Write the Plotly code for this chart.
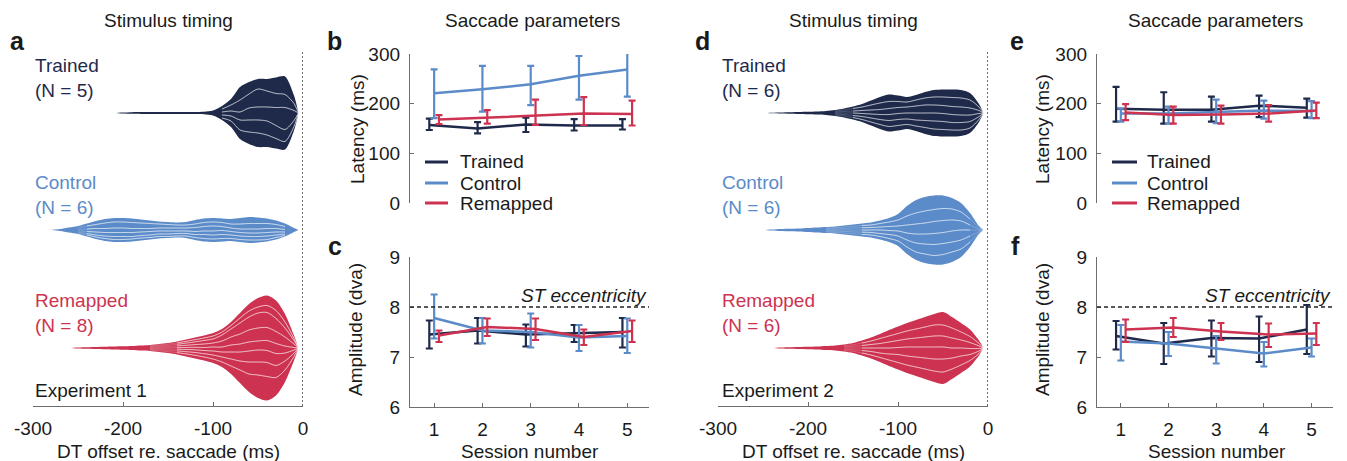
import plotly.graph_objects as go

# page body adds an 8px offset; the figure is sized so the visible window is 1347x461
OFF = 8
W, H = 1347 - OFF, 461 - OFF
FONT = "Liberation Sans, Arial, Helvetica, sans-serif"
FS = 19
NAVY = "#1f2a4b"
BLUE = "#5b8bc8"
RED = "#cd3350"
INK = "#1a1a1a"
AXC = "#6e6e6e"

# ---------------- data ----------------
DT_GRID = list(range(-280, 0, 10))          # -280 ... -10 ms
DT_TIP = -5
DT_TICKS = [-300, -200, -100, 0]
DT_TICKTEXT = ["-300", "-200", "-100", "0"]

# per-subject stacked density thickness (Experiment 1)
A_TRAINED = [
    [0, 0, 0, 0, 0, 0, 0, 0, 0.2, 0.3, 0.3, 0.3, 0.3, 0.4, 0.4, 0.4, 0.4, 0.5, 1, 3, 6, 13, 12, 10, 12, 16, 18, 8],
    [0, 0, 0, 0, 0, 0, 0, 0, 0.2, 0.3, 0.4, 0.4, 0.4, 0.4, 0.4, 0.4, 0.4, 0.5, 1, 3, 6, 12, 14, 18, 16, 14, 13, 7],
    [0, 0, 0, 0, 0, 0, 0, 0, 0.2, 0.4, 0.4, 0.4, 0.4, 0.4, 0.4, 0.5, 0.5, 0.5, 1, 3, 5, 8, 12, 13, 14, 18, 22, 10],
    [0, 0, 0, 0, 0, 0, 0, 0, 0.2, 0.3, 0.4, 0.4, 0.4, 0.4, 0.4, 0.4, 0.4, 0.5, 1, 3, 5, 10, 12, 13, 14, 13, 12, 6],
    [0, 0, 0, 0, 0, 0, 0, 0, 0.2, 0.3, 0.3, 0.3, 0.3, 0.4, 0.4, 0.4, 0.4, 0.5, 1, 2, 6, 9, 12, 14, 12, 10, 8, 4],
]
A_CONTROL = [
    [0, 0.4, 1, 1.5, 2.5, 3.5, 4, 4, 4, 4, 3.5, 3, 2.5, 2.5, 2.5, 3, 4, 4, 4, 4, 5, 6, 6.5, 6, 5, 4, 3, 1],
    [0, 0.4, 1, 2, 3, 4, 5.5, 6, 6, 6, 5.5, 5, 4, 3.5, 3, 3, 3.5, 4, 4, 4, 4, 5, 5.5, 5.5, 5, 4, 3, 1],
    [0, 0.3, 0.8, 1.5, 2.5, 3.5, 4, 4.5, 4.5, 4, 3.5, 3, 3, 3, 3, 3, 4, 4.5, 5, 4, 3.5, 3.5, 4, 4, 4, 3.5, 2.5, 0.6],
    [0, 0.3, 0.8, 1.2, 2, 3, 3.5, 4, 4, 4, 3.5, 3.5, 3, 3, 2.5, 2.5, 3, 3.5, 4, 4, 3.5, 3.5, 3.5, 3.5, 3.5, 3, 2, 0.6],
    [0, 0.3, 0.7, 1, 1.5, 2, 2.5, 3, 3, 2.5, 2.5, 2.5, 2.5, 2.5, 2.5, 2.5, 3, 4, 4, 4, 3.5, 3.5, 3.5, 3.5, 3.5, 2.5, 1.5, 0.4],
    [0, 0.3, 0.7, 0.8, 1.5, 2, 2.5, 2.5, 2.5, 2.5, 2.5, 2, 2, 1.5, 1.5, 2, 2.5, 3, 3, 3, 2.5, 2.5, 3, 2.5, 2, 2, 1, 0.4],
]
A_REMAP = [
    [0, 0, 0, .1, .2, .2, .3, .3, .4, .5, .6, .7, .9, 1.1, 1.4, 1.8, 2.2, 2.5, 3, 3, 3.5, 5, 7, 9, 10, 10, 8, 3],
    [0, 0, 0, .1, .2, .3, .3, .4, .4, .5, .6, .7, .9, 1.1, 1.4, 1.8, 2.2, 2.5, 3, 3, 3.5, 5, 6, 6, 7, 8, 6, 2],
    [0, 0, 0, .2, .2, .3, .3, .4, .5, .5, .6, .8, 1, 1.3, 1.6, 2.2, 2.7, 3.5, 4, 6, 8, 11, 13, 15, 15, 13, 9, 3.5],
    [0, 0, 0, .1, .2, .3, .4, .4, .5, .5, .7, .8, 1, 1.3, 1.7, 2.2, 2.7, 3.5, 4, 6, 8, 10, 12, 13, 13, 12, 9, 3.5],
    [0, 0, 0, .1, .2, .2, .3, .4, .4, .5, .6, .7, 1, 1.2, 1.6, 2, 2.5, 3, 4, 5, 7, 8, 9, 9, 10, 10, 7, 2.5],
    [0, 0, 0, .1, .2, .2, .3, .4, .4, .5, .6, .8, 1, 1.3, 1.7, 2.2, 2.7, 3.2, 4, 5, 7, 9, 11, 12, 12, 12, 8, 3],
    [0, 0, 0, .2, .2, .2, .3, .4, .4, .5, .7, .7, 1.1, 1.3, 1.7, 2.2, 2.8, 3.3, 4, 5, 7, 9, 12, 13, 14, 12, 9, 3.5],
    [0, 0, 0, .1, .1, .3, .3, .3, .5, .5, .6, .8, 1.1, 1.4, 1.9, 2.6, 3.2, 3.5, 4, 5, 8, 13, 18, 23, 24, 18, 12, 4],
]
# Experiment 2
D_TRAINED = [
    [0, 0, 0, 0, .1, .2, .2, .3, .4, .5, .7, 1, 1.5, 2, 3, 4.5, 6, 7, 6, 5, 5, 6, 7, 7.5, 8, 8, 7, 3],
    [0, 0, 0, 0, .1, .2, .3, .3, .4, .5, .6, 1, 1.5, 2.5, 3.5, 5, 6.5, 7, 6, 5, 6, 7, 8, 8.5, 9, 9, 8, 3.5],
    [0, 0, 0, 0, .1, .2, .3, .4, .4, .5, .7, 1, 1.5, 2, 3, 4, 5, 6, 6, 6, 7, 8, 8, 8, 8, 8, 7, 3],
    [0, 0, 0, 0, .1, .1, .2, .3, .4, .5, .7, 1, 1.5, 2.5, 3, 4, 5, 6, 6, 6, 7, 7.5, 8, 8, 8, 7.5, 6.5, 3],
    [0, 0, 0, 0, .05, .2, .3, .4, .5, .5, .7, 1, 1.5, 2, 3, 4, 5, 6, 6, 5.5, 6, 7, 8, 8, 7.5, 7.5, 6.5, 3],
    [0, 0, 0, 0, .05, .1, .2, .3, .4, .5, .6, 1, 1.5, 2, 2.5, 3.5, 4.5, 5, 5, 4.5, 5, 6.5, 7, 7, 6.5, 6, 5, 2.5],
]
D_CONTROL = [
    [0, 0, 0, 0, .2, .3, .4, .5, .7, .8, 1, 1.2, 1.5, 1.8, 2, 2.5, 3, 4, 6, 10, 13, 14, 14, 13, 11, 9, 6, 1.5],
    [0, 0, 0, 0, .2, .4, .4, .5, .7, .9, 1, 1.2, 1.5, 1.8, 2.2, 2.5, 3.5, 4.5, 6, 9, 11, 12, 12, 12, 11, 9, 6, 1.5],
    [0, 0, 0, 0, .2, .3, .4, .5, .6, .8, 1, 1.2, 1.5, 2, 2.3, 2.5, 3, 4, 5, 8, 10, 11, 12, 12, 11, 9, 5, 1.2],
    [0, 0, 0, 0, .1, .3, .4, .5, .7, .8, 1, 1.1, 1.5, 1.8, 2.2, 2.5, 3.5, 4, 5, 7, 9, 10, 11, 11, 11, 10, 6, 1.3],
    [0, 0, 0, 0, .2, .4, .5, .5, .7, .9, 1, 1.2, 1.5, 1.8, 2.2, 2.5, 3, 4, 5, 7, 9, 10, 11, 11, 10, 9, 6, 1.3],
    [0, 0, 0, 0, .1, .3, .4, .5, .6, .8, 1, 1.1, 1.5, 1.8, 2.1, 2.5, 3, 3.5, 5, 7, 8, 9, 9, 10, 10, 8, 5, 1.2],
]
D_REMAP = [
    [0, 0, 0, 0, 0, .2, .3, .3, .4, .5, .7, .8, 1.2, 1.7, 2.5, 3.5, 4.5, 6, 7, 8, 9, 10, 11, 13, 11, 9, 7, 3],
    [0, 0, 0, 0, 0, .2, .2, .4, .4, .5, .6, .9, 1.2, 1.7, 2.5, 3.5, 5, 6, 7, 8, 9, 10, 11, 11, 10, 8, 6, 2.5],
    [0, 0, 0, 0, 0, .1, .3, .3, .4, .5, .7, .8, 1.1, 1.6, 2.5, 3.5, 4.5, 6, 7, 8, 9, 10, 11, 11, 10, 8, 6, 2.5],
    [0, 0, 0, 0, 0, .2, .2, .3, .5, .5, .6, .8, 1.2, 1.7, 2.5, 3.5, 5, 6, 7, 9, 10, 11, 12, 12, 10, 8, 6, 2.5],
    [0, 0, 0, 0, 0, .1, .3, .4, .4, .5, .7, .9, 1.1, 1.6, 2.5, 3.5, 4.5, 6, 8, 9, 10, 11, 12, 13, 11, 9, 6, 2.5],
    [0, 0, 0, 0, 0, .2, .2, .3, .4, .5, .7, .8, 1.2, 1.7, 2.5, 3.5, 4.5, 6, 7, 8, 9, 10, 11, 12, 10, 8, 6, 2],
]

SESSIONS = [1, 2, 3, 4, 5]
LAT_TICKS = [0, 100, 200, 300]
AMP_TICKS = [6, 7, 8, 9]
ST_ECC = 8

# Experiment 1 latency (b)
B_TRAINED = [157, 150, 158, 156, 156]
B_TRAINED_P = [13, 13, 14, 13, 13]
B_TRAINED_M = [10, 10, 15, 10, 8]
B_CONTROL = [221, 229, 239, 256, 269]
B_CONTROL_P = [48, 47, 37, 40, 42]
B_CONTROL_M = [50, 45, 42, 48, 55]
B_REMAP = [168, 172, 177, 180, 179]
B_REMAP_P = [9, 15, 31, 33, 27]
B_REMAP_M = [9, 12, 20, 23, 23]
# Experiment 1 amplitude (c)
C_TRAINED = [7.45, 7.53, 7.45, 7.48, 7.5]
C_TRAINED_P = [0.28, 0.25, 0.2, 0.16, 0.28]
C_TRAINED_M = [0.28, 0.26, 0.24, 0.18, 0.31]
C_CONTROL = [7.78, 7.53, 7.5, 7.39, 7.42]
C_CONTROL_P = [0.47, 0.25, 0.37, 0.25, 0.35]
C_CONTROL_M = [0.41, 0.26, 0.31, 0.27, 0.34]
C_REMAP = [7.43, 7.6, 7.56, 7.4, 7.52]
C_REMAP_P = [0.1, 0.17, 0.21, 0.15, 0.21]
C_REMAP_M = [0.13, 0.18, 0.22, 0.16, 0.22]
# Experiment 2 latency (e)
E_TRAINED = [190, 188, 188, 196, 192]
E_TRAINED_P = [44, 35, 26, 20, 18]
E_TRAINED_M = [26, 28, 24, 23, 20]
E_CONTROL = [180, 180, 183, 186, 185]
E_CONTROL_P = [10, 14, 25, 20, 20]
E_CONTROL_M = [16, 20, 22, 16, 14]
E_REMAP = [182, 177, 178, 180, 186]
E_REMAP_P = [17, 17, 18, 17, 16]
E_REMAP_M = [15, 17, 18, 16, 15]
# Experiment 2 amplitude (f)
F_TRAINED = [7.42, 7.27, 7.38, 7.37, 7.55]
F_TRAINED_P = [0.3, 0.41, 0.35, 0.44, 0.49]
F_TRAINED_M = [0.27, 0.41, 0.37, 0.47, 0.49]
F_CONTROL = [7.31, 7.27, 7.17, 7.07, 7.19]
F_CONTROL_P = [0.33, 0.23, 0.25, 0.23, 0.18]
F_CONTROL_M = [0.38, 0.25, 0.3, 0.26, 0.18]
F_REMAP = [7.55, 7.59, 7.51, 7.45, 7.47]
F_REMAP_P = [0.2, 0.19, 0.17, 0.22, 0.21]
F_REMAP_M = [0.25, 0.19, 0.17, 0.25, 0.23]

GROUPS = ["Trained", "Control", "Remapped"]
COLORS = [NAVY, BLUE, RED]

# ---------------- helpers (window pixel -> paper fraction) ----------------
def px(x):
    return (x - OFF) / W


def py(y):
    return 1 - (y - OFF) / H


fig = go.Figure()


def stream(xa, ya, subjects, center, color):
    n = len(DT_GRID)
    total = [sum(s[i] for s in subjects) for i in range(n)]
    xs = DT_GRID + [DT_TIP]
    top = [center - t / 2 for t in total] + [center]
    bot = [center + t / 2 for t in total] + [center]
    fig.add_trace(go.Scatter(
        x=xs + xs[::-1], y=top + bot[::-1], fill="toself", fillcolor=color,
        mode="lines", line=dict(width=0, color=color, shape="spline", smoothing=0.8),
        xaxis=xa, yaxis=ya, showlegend=False, hoverinfo="skip"))
    cum = top[:-1]
    for s in subjects[:-1]:
        cum = [c + v for c, v in zip(cum, s)]
        ys_faint = [c if t > 5 else None for c, t in zip(cum, total)] + [center]
        ys = [c if t > 12 else None for c, t in zip(cum, total)] + [center]
        fig.add_trace(go.Scatter(
            x=xs, y=ys_faint, mode="lines",
            line=dict(width=1, color="rgba(255,255,255,0.2)", shape="spline", smoothing=0.8),
            xaxis=xa, yaxis=ya, showlegend=False, hoverinfo="skip"))
        fig.add_trace(go.Scatter(
            x=xs, y=ys, mode="lines",
            line=dict(width=1, color="rgba(255,255,255,0.55)", shape="spline", smoothing=0.8),
            xaxis=xa, yaxis=ya, showlegend=False, hoverinfo="skip"))


ROW_CENTERS = [113, 230, 348]   # layout: vertical position of each group's stream (window px)
for subj, c, col in zip([A_TRAINED, A_CONTROL, A_REMAP], ROW_CENTERS, COLORS):
    stream("x", "y", subj, c, col)
for subj, c, col in zip([D_TRAINED, D_CONTROL, D_REMAP], ROW_CENTERS, COLORS):
    stream("x4", "y4", subj, c, col)

DODGE = [-0.1, 0.0, 0.1]


def series(xa, ya, means, plus, minus, color, k):
    fig.add_trace(go.Scatter(
        x=[s + DODGE[k] for s in SESSIONS], y=means, mode="lines",
        line=dict(color=color, width=2.5),
        error_y=dict(type="data", symmetric=False, array=plus, arrayminus=minus,
                     color=color, thickness=2.2, width=3.5),
        xaxis=xa, yaxis=ya, showlegend=False, hoverinfo="skip"))


for k, (m, p, mm) in enumerate([(B_TRAINED, B_TRAINED_P, B_TRAINED_M),
                                (B_CONTROL, B_CONTROL_P, B_CONTROL_M),
                                (B_REMAP, B_REMAP_P, B_REMAP_M)]):
    series("x2", "y2", m, p, mm, COLORS[k], k)
for k, (m, p, mm) in enumerate([(C_TRAINED, C_TRAINED_P, C_TRAINED_M),
                                (C_CONTROL, C_CONTROL_P, C_CONTROL_M),
                                (C_REMAP, C_REMAP_P, C_REMAP_M)]):
    series("x3", "y3", m, p, mm, COLORS[k], k)
for k, (m, p, mm) in enumerate([(E_TRAINED, E_TRAINED_P, E_TRAINED_M),
                                (E_CONTROL, E_CONTROL_P, E_CONTROL_M),
                                (E_REMAP, E_REMAP_P, E_REMAP_M)]):
    series("x5", "y5", m, p, mm, COLORS[k], k)
for k, (m, p, mm) in enumerate([(F_TRAINED, F_TRAINED_P, F_TRAINED_M),
                                (F_CONTROL, F_CONTROL_P, F_CONTROL_M),
                                (F_REMAP, F_REMAP_P, F_REMAP_M)]):
    series("x6", "y6", m, p, mm, COLORS[k], k)

# ---------------- axes ----------------
TICKFONT = dict(family=FONT, size=FS, color=INK)
base_line = dict(showline=True, linecolor=AXC, linewidth=1.3, ticks="inside",
                 ticklen=4, tickcolor=AXC, showgrid=False, zeroline=False,
                 tickfont=TICKFONT, fixedrange=True, automargin=False)

dt_x = dict(base_line, range=[-300, 0], tickvals=DT_TICKS, ticktext=DT_TICKTEXT,
            ticklabelstandoff=5)
hidden_y = dict(visible=False, range=[406, 52], fixedrange=True, automargin=False)
hidden_x = dict(visible=False, range=[0.5, 5.45], fixedrange=True, automargin=False)

sess_x = dict(base_line, range=[0.5, 5.45], tickvals=SESSIONS, ticklabelstandoff=5)
lat_y = dict(base_line, range=[0, 300], tickvals=LAT_TICKS, ticklabelstandoff=5)
amp_y = dict(base_line, range=[6, 9], tickvals=AMP_TICKS, ticklabelstandoff=5)

fig.update_layout(
    xaxis=dict(dt_x, domain=[px(33), px(303)], anchor="y"),
    yaxis=dict(hidden_y, domain=[py(406), py(52)], anchor="x"),
    xaxis4=dict(dt_x, domain=[px(718), px(988)], anchor="y4"),
    yaxis4=dict(hidden_y, domain=[py(406), py(52)], anchor="x4"),
    xaxis2=dict(hidden_x, domain=[px(410), px(649)], anchor="y2"),
    yaxis2=dict(lat_y, domain=[py(203), py(54)], anchor="x2"),
    xaxis3=dict(sess_x, domain=[px(410), px(649)], anchor="y3"),
    yaxis3=dict(amp_y, domain=[py(407), py(257)], anchor="x3"),
    xaxis5=dict(hidden_x, domain=[px(1097), px(1333)], anchor="y5"),
    yaxis5=dict(lat_y, domain=[py(203), py(54)], anchor="x5"),
    xaxis6=dict(sess_x, domain=[px(1097), px(1333)], anchor="y6"),
    yaxis6=dict(amp_y, domain=[py(407), py(257)], anchor="x6"),
)

# ---------------- shapes ----------------
shapes = []
for xa in ["x", "x4"]:
    shapes.append(dict(type="line", xref=xa, yref=xa.replace("x", "y") + " domain",
                       x0=0, x1=0, y0=0, y1=1,
                       line=dict(color="#222222", width=1.3, dash="2px,2px")))
for xa, ya in [("x3", "y3"), ("x6", "y6")]:
    shapes.append(dict(type="line", xref=xa + " domain", yref=ya, x0=0, x1=1,
                       y0=ST_ECC, y1=ST_ECC,
                       line=dict(color="#222222", width=1.4, dash="4px,3px")))

LEG_Y = [162, 183, 203]
legend_spots = [(425, 448, 458), (1112, 1137, 1145)]
annotations = []
for (lx0, lx1, tx) in legend_spots:
    for name, col, yy in zip(GROUPS, COLORS, LEG_Y):
        shapes.append(dict(type="line", xref="paper", yref="paper", x0=px(lx0), x1=px(lx1),
                           y0=py(yy), y1=py(yy), line=dict(color=col, width=3)))
        annotations.append(dict(text=name, x=px(tx), y=py(yy), xref="paper", yref="paper",
                                xanchor="left", yanchor="middle", showarrow=False,
                                font=dict(family=FONT, size=FS, color=INK)))


def ann(text, x, y, color=INK, size=FS, xanchor="center", angle=0):
    annotations.append(dict(text=text, x=px(x), y=py(y), xref="paper", yref="paper",
                            xanchor=xanchor, yanchor="middle", showarrow=False,
                            align=xanchor if xanchor != "center" else "center",
                            textangle=angle, font=dict(family=FONT, size=size, color=color)))


ann("Stimulus timing", 168, 20)
ann("Stimulus timing", 853, 20)
ann("Saccade parameters", 532, 20)
ann("Saccade parameters", 1215, 20)

for letter, x, y in [("a", 17, 41), ("b", 334, 41), ("c", 335, 246),
                     ("d", 702, 41), ("e", 1017, 41), ("f", 1015, 246)]:
    ann("<b>%s</b>" % letter, x, y, size=25)

N_EXP1 = [5, 6, 8]
N_EXP2 = [6, 6, 6]
LABEL_Y = [78, 195, 313]
for x0, ns, exp in [(33, N_EXP1, "Experiment 1"), (720, N_EXP2, "Experiment 2")]:
    for name, n, col, yy in zip(GROUPS, ns, COLORS, LABEL_Y):
        ann("%s<br>(N = %d)" % (name, n), x0, yy, color=col, xanchor="left")
    ann(exp, x0, 390, xanchor="left")

ann("DT offset re. saccade (ms)", 168, 451)
ann("DT offset re. saccade (ms)", 853, 451)
ann("Session number", 530, 451)
ann("Session number", 1217, 451)
ann("Latency (ms)", 357, 129, angle=-90)
ann("Latency (ms)", 1042, 129, angle=-90)
ann("Amplitude (dva)", 355, 330, angle=-90)
ann("Amplitude (dva)", 1042, 330, angle=-90)

for xa, ya in [("x3", "y3"), ("x6", "y6")]:
    annotations.append(dict(text="<i>ST eccentricity</i>", xref=xa + " domain", yref=ya,
                            x=1, y=ST_ECC, xanchor="right", yanchor="bottom", yshift=-1,
                            showarrow=False, font=dict(family=FONT, size=FS, color=INK)))

fig.update_layout(
    width=W, height=H, margin=dict(l=0, r=0, t=0, b=0, pad=0, autoexpand=False),
    paper_bgcolor="white", plot_bgcolor="white",
    font=dict(family=FONT, size=FS, color=INK),
    showlegend=False, shapes=shapes, annotations=annotations,
)

fig.write_html("out.html")
